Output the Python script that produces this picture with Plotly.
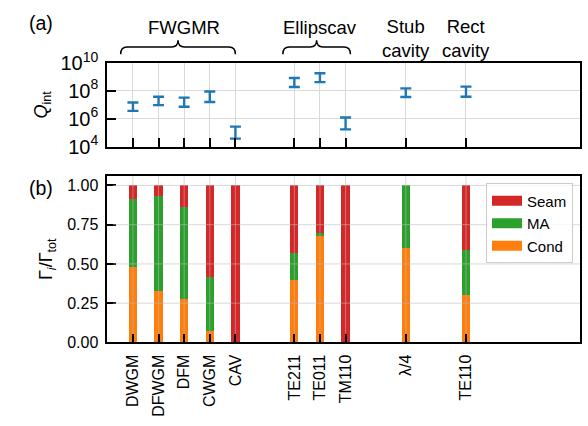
import plotly.graph_objects as go

# Resonator / mode labels and their positions along the shared x axis
cats = ["DWGM", "DFWGM", "DFM", "CWGM", "CAV", "TE211", "TE011", "TM110", "λ/4", "TE110"]
xpos = [0, 1, 2, 3, 4, 6.3, 7.3, 8.3, 10.65, 13]

# Internal quality factor ranges (lower / upper bound)
q_lo = [3.7e6, 9.5e6, 7.2e6, 1.6e7, 3.8e4, 1.9e8, 4.2e8, 1.75e5, 3.6e7, 3.8e7]
q_hi = [1.45e7, 3.8e7, 3.3e7, 8.9e7, 2.75e5, 8.3e8, 1.8e9, 1.23e6, 1.5e8, 2.0e8]

# Fractional loss contributions
cond = [0.483, 0.330, 0.278, 0.074, 0.0, 0.400, 0.678, 0.0, 0.602, 0.300]
ma = [0.432, 0.604, 0.583, 0.340, 0.0, 0.169, 0.018, 0.0, 0.398, 0.286]
seam = [0.085, 0.066, 0.139, 0.586, 1.0, 0.431, 0.304, 1.0, 0.0, 0.414]

# Resonator families shown above panel (a)
groups = ["FWGMR", "Ellipscav", "Stub<br>cavity", "Rect<br>cavity"]
group_members = [[0, 1, 2, 3, 4], [5, 6, 7], [8], [9]]
brace_spans = [(-0.48, 4.0), (5.85, 8.49), None, None]

C_SEAM, C_MA, C_COND, C_Q = "#d62728", "#2ca02c", "#ff7f0e", "#1f77b4"
FONT = "Liberation Sans, Arial, sans-serif"

fig = go.Figure()

# (a) Q_int ranges as capped bars
fig.add_trace(go.Scatter(
    x=xpos, y=q_lo, mode="markers",
    marker=dict(size=1, opacity=0, color=C_Q),
    error_y=dict(type="data", symmetric=False,
                 array=[h - l for h, l in zip(q_hi, q_lo)],
                 arrayminus=[0] * len(q_lo),
                 color=C_Q, thickness=2.4, width=5.5),
    showlegend=False, xaxis="x", yaxis="y",
))

# (b) stacked loss fractions
for name, vals, col in [("Cond", cond, C_COND), ("MA", ma, C_MA), ("Seam", seam, C_SEAM)]:
    fig.add_trace(go.Bar(
        x=xpos, y=vals, width=0.32, name=name, legendgroup=name,
        marker=dict(color=col, line=dict(width=0)),
        showlegend=False, xaxis="x2", yaxis="y2",
    ))

# legend entries drawn as wide patches
for name, col in [("Seam", C_SEAM), ("MA", C_MA), ("Cond", C_COND)]:
    fig.add_trace(go.Scatter(
        x=[None], y=[None], mode="lines", name=name, legendgroup=name,
        line=dict(color=col, width=10), xaxis="x2", yaxis="y2",
    ))

XDOM = [0.1825, 0.9864]
XRANGE = [-1.0, 17.45]
tick_common = dict(ticks="inside", ticklen=9, tickwidth=1.8, tickcolor="black",
                   showline=True, linecolor="black", linewidth=1.6, mirror=True,
                   zeroline=False)

fig.update_layout(
    width=588, height=426,
    margin=dict(l=0, r=0, t=0, b=0),
    paper_bgcolor="white", plot_bgcolor="white",
    font=dict(family=FONT, size=16, color="black"),
    barmode="stack",
    xaxis=dict(domain=XDOM, range=XRANGE, tickvals=xpos, showticklabels=False,
               showgrid=True, gridcolor="#dadada", gridwidth=1, anchor="y",
               **tick_common),
    yaxis=dict(domain=[0.669, 0.878], type="log", range=[4, 10], dtick=2,
               exponentformat="power", showgrid=True, gridcolor="#dadada",
               anchor="x", ticklabelstandoff=4,
               title=dict(text="<i>Q</i><sub>int</sub>", font=dict(size=18), standoff=8),
               **tick_common),
    xaxis2=dict(domain=XDOM, range=XRANGE, tickvals=xpos, ticktext=cats,
                tickangle=-90, showgrid=False, anchor="y2", layer="above traces",
                ticklabelstandoff=4, **tick_common),
    yaxis2=dict(domain=[0.181, 0.596], range=[0, 1.06],
                tickvals=[0, 0.25, 0.5, 0.75, 1.0], tickformat=".2f",
                showgrid=False, anchor="x2", layer="above traces", ticklabelstandoff=4,
                title=dict(text="Γ<sub><i>i</i></sub>/Γ<sub>tot</sub>", font=dict(size=18), standoff=10),
                **tick_common),
    legend=dict(x=0.9745, xanchor="right", y=0.5775, yanchor="top",
                bordercolor="#cccccc", borderwidth=1, bgcolor="rgba(255,255,255,0.8)",
                font=dict(size=15), itemwidth=30, tracegroupgap=0),
)

# grid of panel (b), drawn over the bars but clear of the tick marks
grid_col = "rgba(185,185,185,0.55)"
for xv in xpos:
    fig.add_shape(type="line", xref="x2", yref="y2 domain", x0=xv, x1=xv, y0=0.052, y1=1,
                  line=dict(color=grid_col, width=1), layer="above")
for yv in [0.25, 0.5, 0.75, 1.0]:
    fig.add_shape(type="line", xref="x2 domain", yref="y2", x0=0.012, x1=1, y0=yv, y1=yv,
                  line=dict(color=grid_col, width=1), layer="above")

# panel tags
fig.add_annotation(text="(a)", xref="paper", yref="paper", x=0.046, y=0.9765,
                   yanchor="middle", showarrow=False, font=dict(size=19.5))
fig.add_annotation(text="(b)", xref="paper", yref="paper", x=0.046, y=0.566,
                   yanchor="middle", showarrow=False, font=dict(size=19.5))

# family labels and curly braces
yb, ym, yt = 0.8998, 0.9178, 0.9343
r = 0.25
for label, members, span in zip(groups, group_members, brace_spans):
    cx = sum(xpos[i] for i in members) / len(members)
    two_line = "<br>" in label
    fig.add_annotation(text=label, xref="x", yref="paper", x=cx,
                       y=0.939 if two_line else 0.967, yanchor="middle",
                       showarrow=False, font=dict(size=18.5))
    if span:
        x0, x1 = span
        tip = (x0 + x1) / 2
        path = (f"M {x0},{yb} Q {x0},{ym} {x0 + r},{ym} L {tip - r},{ym} "
                f"Q {tip},{ym} {tip},{yt} Q {tip},{ym} {tip + r},{ym} "
                f"L {x1 - r},{ym} Q {x1},{ym} {x1},{yb}")
        fig.add_shape(type="path", path=path, xref="x", yref="paper",
                      line=dict(color="black", width=1.5))

fig.write_html("out.html")
